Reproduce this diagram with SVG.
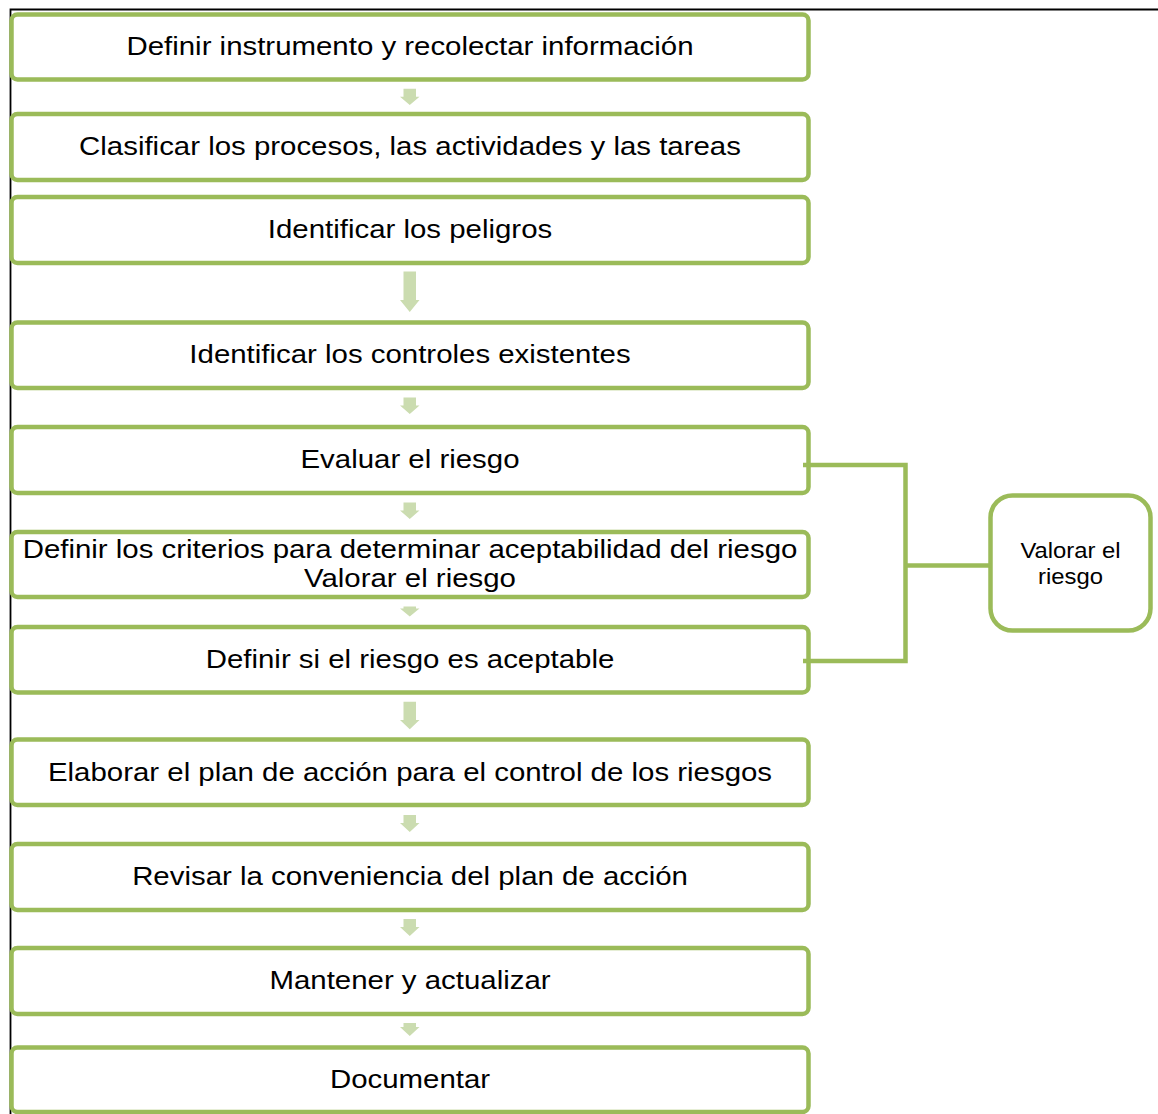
<svg xmlns="http://www.w3.org/2000/svg" width="1158" height="1114" viewBox="0 0 1158 1114">
  <style>
    .step { fill: #ffffff; stroke: #9bbb59; stroke-width: 4.5; }
    .label { font-family: "Liberation Sans", Arial, sans-serif; font-size: 26.5px; fill: #000000; text-anchor: middle; }
    .side { font-family: "Liberation Sans", Arial, sans-serif; font-size: 22.5px; fill: #000000; text-anchor: middle; }
    .flow { fill: #cbdcb0; stroke: none; }
    .bracket { fill: none; stroke: #9bbb59; stroke-width: 4.5; stroke-linejoin: miter; }
    .frame { fill: none; stroke: #000000; stroke-width: 1.8; }
  </style>

  <rect x="0" y="0" width="1158" height="1114" fill="#ffffff"/>

  <!-- outer table border (top and left edges) -->
  <path class="frame" d="M10.5,1114 V9.5 H1158"/>

  <!-- process steps -->
  <g id="step-1">
    <rect class="step" x="11.5" y="14.5" width="797" height="65" rx="6"/>
    <text class="label" transform="translate(410,55) scale(1.11,1)">Definir instrumento y recolectar información</text>
  </g>
  <g id="step-2">
    <rect class="step" x="11.5" y="114" width="797" height="66" rx="6"/>
    <text class="label" transform="translate(410,154.5) scale(1.11,1)">Clasificar los procesos, las actividades y las tareas</text>
  </g>
  <g id="step-3">
    <rect class="step" x="11.5" y="197" width="797" height="66" rx="6"/>
    <text class="label" transform="translate(410,238) scale(1.11,1)">Identificar los peligros</text>
  </g>
  <g id="step-4">
    <rect class="step" x="11.5" y="322.5" width="797" height="65.5" rx="6"/>
    <text class="label" transform="translate(410,363) scale(1.11,1)">Identificar los controles existentes</text>
  </g>
  <g id="step-5">
    <rect class="step" x="11.5" y="427" width="797" height="66" rx="6"/>
    <text class="label" transform="translate(410,468) scale(1.11,1)">Evaluar el riesgo</text>
  </g>
  <g id="step-6">
    <rect class="step" x="11.5" y="532" width="797" height="65" rx="6"/>
    <text class="label" transform="translate(410,557.5) scale(1.11,1)">Definir los criterios para determinar aceptabilidad del riesgo</text>
    <text class="label" transform="translate(410,586.5) scale(1.11,1)">Valorar el riesgo</text>
  </g>
  <g id="step-7">
    <rect class="step" x="11.5" y="627" width="797" height="65.5" rx="6"/>
    <text class="label" transform="translate(410,667.5) scale(1.11,1)">Definir si el riesgo es aceptable</text>
  </g>
  <g id="step-8">
    <rect class="step" x="11.5" y="739.5" width="797" height="65.5" rx="6"/>
    <text class="label" transform="translate(410,780.5) scale(1.11,1)">Elaborar el plan de acción para el control de los riesgos</text>
  </g>
  <g id="step-9">
    <rect class="step" x="11.5" y="844" width="797" height="66" rx="6"/>
    <text class="label" transform="translate(410,885) scale(1.11,1)">Revisar la conveniencia del plan de acción</text>
  </g>
  <g id="step-10">
    <rect class="step" x="11.5" y="948" width="797" height="66" rx="6"/>
    <text class="label" transform="translate(410,989) scale(1.11,1)">Mantener y actualizar</text>
  </g>
  <g id="step-11">
    <rect class="step" x="11.5" y="1047.5" width="797" height="64.5" rx="6"/>
    <text class="label" transform="translate(410,1088) scale(1.11,1)">Documentar</text>
  </g>

  <!-- grouped-step summary box -->
  <g id="valorar">
    <rect class="step" x="990.5" y="495.5" width="160" height="135" rx="22"/>
    <text class="side" transform="translate(1070.5,557.5) scale(1.06,1)">Valorar el</text>
    <text class="side" transform="translate(1070.5,583.5) scale(1.06,1)">riesgo</text>
  </g>

  <!-- connectors -->
  <g id="connectors">
    <polygon class="flow" points="403.5,88.7 416,88.7 416,96.7 419.5,96.7 409.75,105 400,96.7 403.5,96.7"/>
    <polygon class="flow" points="403.5,271.5 416,271.5 416,300 419.5,300 409.75,312 400,300 403.5,300"/>
    <polygon class="flow" points="403.5,397.5 416,397.5 416,405.5 419.5,405.5 409.75,414 400,405.5 403.5,405.5"/>
    <polygon class="flow" points="403.5,502.5 416,502.5 416,510.5 419.5,510.5 409.75,519 400,510.5 403.5,510.5"/>
    <polygon class="flow" points="403.5,606.5 416,606.5 416,608.5 419.5,608.5 409.75,616.5 400,608.5 403.5,608.5"/>
    <polygon class="flow" points="403.5,701.7 416,701.7 416,720 419.5,720 409.75,729.3 400,720 403.5,720"/>
    <polygon class="flow" points="403.5,815 416,815 416,823 419.5,823 409.75,832 400,823 403.5,823"/>
    <polygon class="flow" points="403.5,919 416,919 416,927 419.5,927 409.75,936 400,927 403.5,927"/>
    <polygon class="flow" points="403.5,1023 416,1023 416,1027 419.5,1027 409.75,1036 400,1027 403.5,1027"/>
    <path class="bracket" d="M803,465 H905.5 V661 H803"/>
    <path class="bracket" d="M905.5,565.5 H990.5"/>
  </g>
</svg>
